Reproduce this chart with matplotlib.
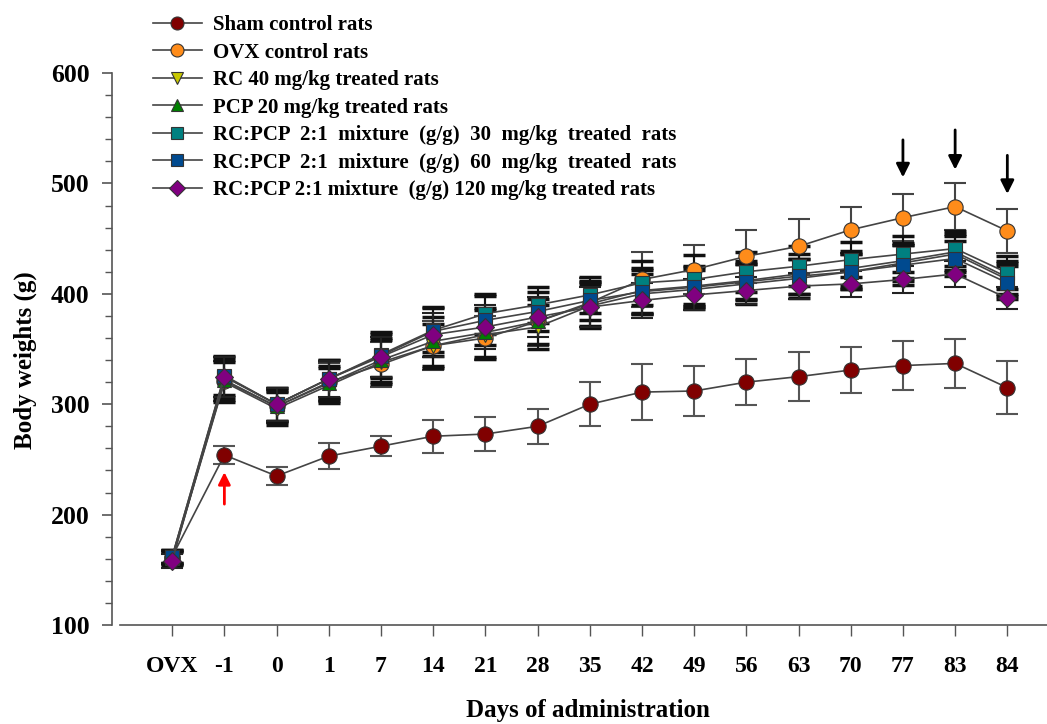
import numpy as np
import matplotlib.pyplot as plt
from matplotlib.ticker import MultipleLocator

plt.rcParams['font.family'] = ['Liberation Serif', 'DejaVu Serif']
plt.rcParams['font.weight'] = 'bold'

days = ["OVX", "-1", "0", "1", "7", "14", "21", "28", "35", "42", "49", "56", "63", "70", "77", "83", "84"]

sham = [162, 254, 235, 253, 262, 271, 273, 280, 300, 311, 312, 320, 325, 331, 335, 337, 315]
sham_err = [6, 8, 8, 12, 9, 15, 15, 16, 20, 25, 23, 21, 22, 21, 22, 22, 24]
ovx = [161, 321, 298, 320, 336, 353, 360, 375, 392, 413, 422, 434, 443, 458, 469, 479, 457]
ovx_err = [6, 18, 15, 17, 20, 22, 20, 22, 22, 25, 22, 24, 25, 21, 21, 21, 20]
rc40 = [160, 320, 296, 317, 338, 353, 363, 370, 389, 400, 404, 409, 414, 420, 428, 436, 413]
rc40_err = [6, 18, 15, 16, 20, 20, 22, 20, 20, 18, 18, 18, 18, 16, 16, 16, 15]
pcp20 = [161, 322, 298, 319, 340, 357, 365, 375, 391, 403, 407, 412, 418, 423, 430, 438, 415]
pcp20_err = [6, 18, 14, 16, 20, 22, 22, 20, 20, 20, 18, 18, 18, 16, 16, 16, 15]
mix30 = [162, 325, 300, 323, 345, 367, 382, 390, 399, 410, 413, 420, 425, 431, 436, 441, 419]
mix30_err = [6, 18, 15, 17, 20, 20, 18, 16, 16, 20, 22, 18, 18, 16, 16, 16, 15]
mix60 = [162, 326, 300, 323, 344, 366, 376, 384, 394, 402, 406, 411, 416, 420, 426, 432, 410]
mix60_err = [6, 18, 15, 17, 20, 22, 22, 18, 18, 20, 18, 16, 16, 16, 18, 16, 15]
mix120 = [158, 325, 300, 323, 343, 363, 370, 379, 388, 394, 399, 403, 407, 409, 413, 418, 396]
mix120_err = [6, 18, 15, 16, 18, 20, 20, 18, 18, 16, 14, 12, 12, 12, 12, 12, 10]

labels = ["Sham control rats", "OVX control rats", "RC 40 mg/kg treated rats",
          "PCP 20 mg/kg treated rats",
          "RC:PCP  2:1  mixture  (g/g)  30  mg/kg  treated  rats",
          "RC:PCP  2:1  mixture  (g/g)  60  mg/kg  treated  rats",
          "RC:PCP 2:1 mixture  (g/g) 120 mg/kg treated rats"]

red_arrow_day = 1
red_arrow = (207, 241)
black_arrow_days = [14, 15, 16]
black_arrow_tail = [542, 551, 528]
black_arrow_tip = [503, 510, 488]

fig = plt.figure(figsize=(10.47, 7.24), dpi=100)
ax = fig.add_axes([0.1146, 0.1367, 0.8854, 0.7624])
x = np.arange(len(days))

series = [
    (sham, sham_err, 'o', '#800000', 11, '#555555', 1.5),
    (ovx, ovx_err, 'o', '#FF8C1A', 11, '#444444', 1.5),
    (rc40, rc40_err, 'v', '#C8C800', 10, '#111111', 2.5),
    (pcp20, pcp20_err, '^', '#008000', 10, '#111111', 2.5),
    (mix30, mix30_err, 's', '#008080', 10, '#111111', 2.5),
    (mix60, mix60_err, 's', '#004A8F', 10, '#111111', 2.5),
    (mix120, mix120_err, 'D', '#800080', 9.5, '#222222', 1.5),
]

handles = []
for (vals, err, mk, col, ms, ecol, cth), lab in zip(series, labels):
    ax.errorbar(x, vals, yerr=err, fmt='none', ecolor=ecol, elinewidth=1.5,
                capsize=8, capthick=cth, zorder=2)
    h, = ax.plot(x, vals, color='#444444', lw=1.2, marker=mk, ms=ms,
                 markerfacecolor=col, markeredgecolor='#333333', markeredgewidth=0.8,
                 label=lab, zorder=3)
    handles.append(h)

ax.annotate('', xy=(red_arrow_day, red_arrow[1]), xytext=(red_arrow_day, red_arrow[0]),
            arrowprops=dict(arrowstyle='-|>', color='red', lw=2, mutation_scale=18))
for d, t0, t1 in zip(black_arrow_days, black_arrow_tail, black_arrow_tip):
    ax.annotate('', xy=(d, t1), xytext=(d, t0),
                arrowprops=dict(arrowstyle='-|>', color='black', lw=2, mutation_scale=20))

ax.set_xlim(-1, 16.76)
ax.set_ylim(100, 600)
ax.set_xticks(x)
ax.set_xticklabels(days, fontsize=17, fontweight='bold')
ax.set_yticks(range(100, 601, 100))
ax.yaxis.set_minor_locator(MultipleLocator(20))
ax.tick_params(axis='y', labelsize=18.5, colors='#555555', labelcolor='black',
               length=7, width=1.2, pad=9)
ax.tick_params(axis='y', which='minor', colors='#555555', length=5, width=1)
ax.tick_params(axis='x', colors='#555555', labelcolor='black', length=8, width=1, pad=14)
for t in ax.get_yticklabels():
    t.set_fontweight('bold')
ax.spines['top'].set_visible(False)
ax.spines['right'].set_visible(False)
ax.spines['left'].set_position(('outward', 6))
ax.spines['left'].set_color('#555555')
ax.spines['bottom'].set_color('#555555')
ax.spines['left'].set_linewidth(1.2)
ax.spines['bottom'].set_linewidth(1.2)

ax.set_xlabel("Days of administration", fontsize=18, fontweight='bold')
ax.xaxis.set_label_coords(0.505, -0.134)
ax.set_ylabel("Body weights (g)", fontsize=18, fontweight='bold')
ax.yaxis.set_label_coords(-0.0895, 0.48)

fig.legend(handles=handles, loc='upper left', bbox_to_anchor=(0.1278, 1.005), frameon=False,
           prop={'family': 'Liberation Serif', 'weight': 'bold', 'size': 15},
           handlelength=2.36, labelspacing=0.36, handletextpad=0.53, markerscale=0.85)

fig.savefig('out.png', dpi=100)
